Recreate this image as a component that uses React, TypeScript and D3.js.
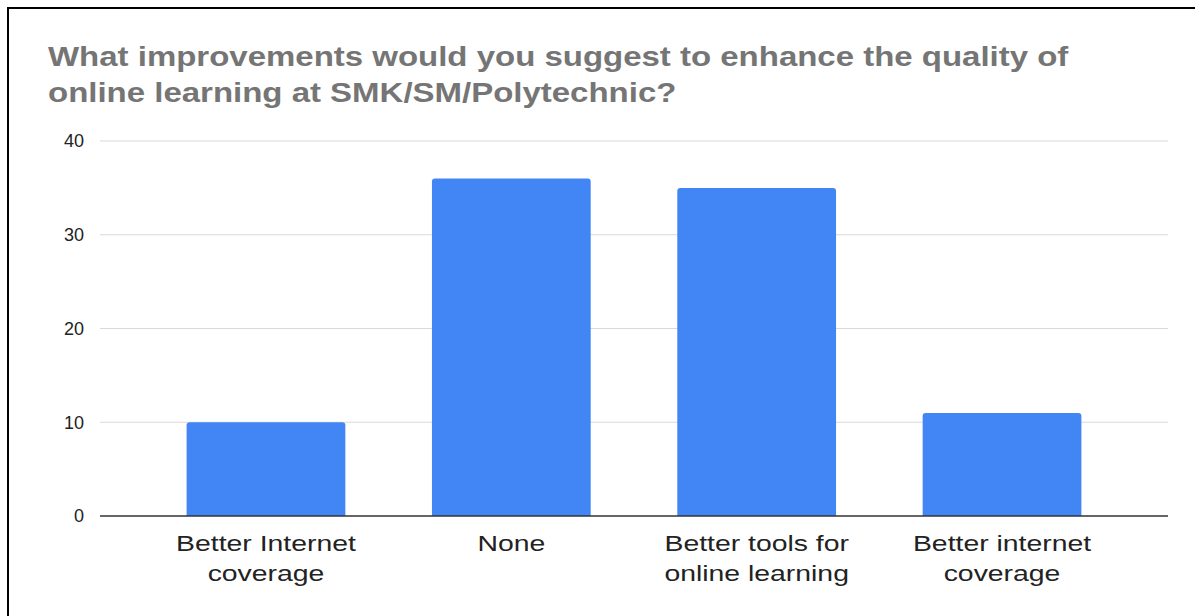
import React from "react";
import * as d3 from "d3";

const categories: string[][] = [
  ["Better Internet", "coverage"],
  ["None"],
  ["Better tools for", "online learning"],
  ["Better internet", "coverage"],
];
const values: number[] = [10, 36, 35, 11];
const yTicks: number[] = [0, 10, 20, 30, 40];
const titleLines: string[] = [
  "What improvements would you suggest to enhance the quality of",
  "online learning at SMK/SM/Polytechnic?",
];

const W = 1195;
const H = 616;
const plot = { left: 100, right: 1168, top: 141, bottom: 516 };
// horizontal stretch of the reference rendering
const TITLE_STRETCH = 1.222;
const LABEL_STRETCH = 1.29;

function Stretched(props: {
  x: number;
  y: number;
  sx: number;
  anchor: "start" | "middle" | "end";
  children: React.ReactNode;
  [k: string]: any;
}) {
  const { x, y, sx, anchor, children, ...rest } = props;
  return (
    <g transform={`translate(${x},${y}) scale(${sx},1)`}>
      <text x={0} y={0} textAnchor={anchor} {...rest}>
        {children}
      </text>
    </g>
  );
}

export default function App() {
  const x = d3
    .scaleBand<number>()
    .domain(values.map((_, i) => i))
    .range([plot.left, plot.right])
    .padding(0.353);
  const y = d3.scaleLinear().domain([0, 40]).range([plot.bottom, plot.top]);
  const font = "'Liberation Sans', Arial, sans-serif";
  return (
    <div style={{ position: "absolute", left: 0, top: 0 }}>
      <svg width={W} height={H} style={{ display: "block" }}>
        <rect x={0} y={0} width={W} height={H} fill="#fff" />
        <rect x={8} y={8} width={W + 10} height={H + 10} fill="none" stroke="#000" strokeWidth={2} />
        {titleLines.map((t, i) => (
          <Stretched
            key={i}
            x={48}
            y={66 + i * 36}
            sx={TITLE_STRETCH}
            anchor="start"
            fontFamily={font}
            fontWeight="bold"
            fontSize={27}
            fill="#757575"
          >
            {t}
          </Stretched>
        ))}
        {yTicks.map((t) => (
          <g key={t}>
            {t !== 0 && (
              <line x1={plot.left} x2={plot.right} y1={y(t)} y2={y(t)} stroke="#d9d9d9" strokeWidth={1} />
            )}
            <text
              x={84}
              y={y(t)}
              dy="0.36em"
              textAnchor="end"
              fontFamily={font}
              fontSize={18}
              fill="#222"
            >
              {t}
            </text>
          </g>
        ))}
        {values.map((v, i) => {
          const x0 = x(i)!;
          const bw = x.bandwidth();
          const y0 = y(v);
          const h = y(0) - y0;
          const r = 3;
          const path = `M${x0},${y(0)} L${x0},${y0 + r} Q${x0},${y0} ${x0 + r},${y0} L${x0 + bw - r},${y0} Q${x0 + bw},${y0} ${x0 + bw},${y0 + r} L${x0 + bw},${y(0)} Z`;
          return <path key={i} d={h > 0 ? path : ""} fill="#4285f4" />;
        })}
        <line x1={plot.left} x2={plot.right} y1={y(0)} y2={y(0)} stroke="#333" strokeWidth={1.5} />
        {categories.map((lines, i) =>
          lines.map((l, j) => (
            <Stretched
              key={`${i}-${j}`}
              x={x(i)! + x.bandwidth() / 2}
              y={551 + j * 30}
              sx={LABEL_STRETCH}
              anchor="middle"
              fontFamily={font}
              fontSize={22}
              fill="#222"
            >
              {l}
            </Stretched>
          ))
        )}
      </svg>
    </div>
  );
}
